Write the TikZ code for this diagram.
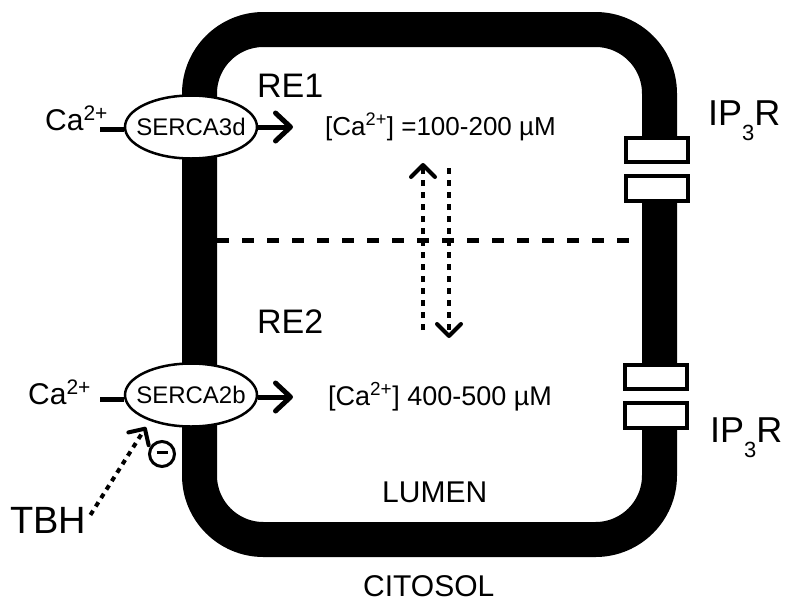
\documentclass[tikz,border=0pt]{standalone}
\usepackage{fontspec}
\setmainfont{Liberation Sans}
\usetikzlibrary{arrows.meta,shapes.geometric}

\newcommand{\txtsize}[1]{\fontsize{#1}{#1}\selectfont}

\begin{document}
\begin{tikzpicture}[
    x=1pt,y=-1pt,
    membrane/.style={line width=35pt,rounded corners=64pt},
    pump/.style={ellipse,draw,line width=2.5pt,fill=white,
        minimum width=132pt,minimum height=63pt,inner sep=-9pt,
        font=\txtsize{24}},
    lbl/.style={anchor=base west,inner sep=0pt},
    flux/.style={line width=5pt},
    fluxarrow/.style={flux,-{Straight Barb[length=15pt,width=28pt,line cap=round,line join=round]}},
    dotarrow/.style={line width=4pt,dash pattern=on 6pt off 6pt,
        -{Straight Barb[length=12pt,width=24pt,line cap=round,line join=round]}},
    chanbox/.style={draw,line width=4pt,fill=white},
    channel/.pic={
        \fill[white] (-24,-33) rectangle (24,33);
        \draw[chanbox] (-31,-31.5) rectangle (31,-7.5);
        \draw[chanbox] (-31,7) rectangle (31,31.5);
    }
]
\useasboundingbox (0,0) rectangle (788,603);

% reticulum membrane
\draw[membrane] (199.5,29.5) rectangle (659.5,539.5);

% IP3R channels
\pic at (657,169) {channel};
\pic at (656,396) {channel};
\node[lbl,font=\txtsize{36}] (ipr1) at (708,125) {IP\raisebox{-0.42em}{\txtsize{22}3}R};
\node[lbl,font=\txtsize{36}] (ipr2) at (710,442) {IP\raisebox{-0.42em}{\txtsize{22}3}R};

% compartment border
\coordinate (dl) at (217,240);
\coordinate (dr) at (642,240);
\draw[line width=5pt,dash pattern=on 12pt off 13pt] (dl) -- (dr);

% exchange between compartments
\coordinate (up0) at (423,330);
\coordinate (up1) at (423,163);
\coordinate (dn0) at (449,168);
\coordinate (dn1) at (449,338);
\draw[dotarrow] (up0) -- (up1);
\draw[dotarrow] (dn0) -- (dn1);

% pumps
\node[pump] (serca3) at (191,127) {SERCA3d};
\node[pump] (serca2) at (191,395) {SERCA2b};

\node[lbl,font=\txtsize{30}] (ca1) at (45,130) {Ca\textsuperscript{2+}};
\node[lbl,font=\txtsize{30}] (ca2) at (28,404) {Ca\textsuperscript{2+}};
\coordinate (in1) at (100,129);
\coordinate (in2) at (100,399);
\coordinate (out1) at (293,127);
\coordinate (out2) at (293,397);
\draw[flux] (in1) -- (serca3.west |- in1);
\draw[flux] (in2) -- (serca2.west |- in2);
\draw[fluxarrow] (serca3.east) -- (out1);
\draw[fluxarrow] (serca2.east |- out2) -- (out2);

% inhibitor
\node[circle,draw,line width=3pt,minimum size=25pt,inner sep=0pt] (inhib) at (162,454)
    {\rule[0.5ex]{11pt}{3.5pt}};
\node[lbl,font=\txtsize{38}] (tbh) at (10,533) {TBH};
\coordinate (tip) at (146,427);
\draw[dotarrow,dash pattern=on 5pt off 5pt] ([xshift=4pt,yshift=5pt]tbh.east) -- (tip);

% lumen texts
\node[lbl,font=\txtsize{34}] (re1) at (257,97) {RE1};
\node[lbl,font=\txtsize{34}] (re2) at (257,333) {RE2};
\node[lbl,font=\txtsize{26}] (conc1) at (325,135) {[Ca\textsuperscript{2+}] =100-200 µM};
\node[lbl,font=\txtsize{27}] (conc2) at (328,405) {[Ca\textsuperscript{2+}] 400-500 µM};
\node[lbl,font=\txtsize{30}] (lumen) at (382,502) {LUMEN};
\node[lbl,font=\txtsize{30}] (cito) at (363,596) {CITOSOL};

\end{tikzpicture}
\end{document}
